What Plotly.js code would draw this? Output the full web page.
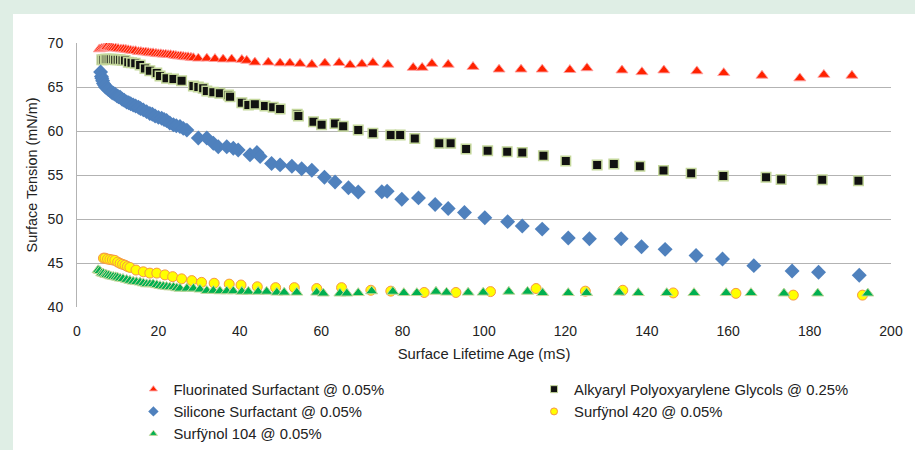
<!DOCTYPE html>
<html>
<head>
<meta charset="utf-8">
<script src="https://cdn.plot.ly/plotly-3.0.1.min.js"></script>
<style>
  html, body { margin: 0; padding: 0; width: 915px; height: 450px; overflow: hidden; }
  #bg { position: absolute; left: 0; top: 0; width: 915px; height: 450px; background: #dfeee5; }
  #card { position: absolute; left: 13px; top: 14px; width: 902px; height: 436px; background: #ffffff; }
  #chart { position: absolute; left: 0; top: 0; width: 915px; height: 450px; }
</style>
</head>
<body>
<div id="bg"></div>
<div id="card"></div>
<div id="chart"></div>
<script>
// ---- Data ----
const seriesNames = [
  "Fluorinated Surfactant @ 0.05%",
  "Alkyaryl Polyoxyarylene Glycols @ 0.25%",
  "Silicone Surfactant @ 0.05%",
  "Surfÿnol 420 @ 0.05%",
  "Surfÿnol 104 @ 0.05%"
];

const fluorX = [5.5,6.0,6.5,7.0,7.3,7.8,8.1,8.5,8.9,9.5,
  10.1,10.8,11.4,12.0,12.6,13.2,13.8,14.4,15.1,15.7,
  16.3,16.9,17.5,18.1,18.7,19.4,20.0,20.6,21.2,21.8,
  22.4,23.0,23.7,24.3,24.9,25.5,26.1,26.7,27.3,28.0,
  28.6,29.8,31.9,33.9,35.9,38.0,40.5,41.7,43.7,47.0,
  49.9,52.3,54.8,57.7,60.9,64.4,67.1,70.0,72.7,76.4,
  82.6,84.8,87.2,91.2,97.3,103.7,109.1,114.3,121.1,125.3,
  133.9,138.8,144.2,152.3,158.9,168.3,177.6,183.5,190.4];
const fluorY = [69.3,69.35,69.4,69.5,69.55,69.5,69.5,69.45,69.4,69.4,
  69.35,69.3,69.3,69.25,69.2,69.15,69.1,69.1,69.0,69.0,
  68.95,68.95,68.9,68.85,68.85,68.8,68.75,68.75,68.7,68.7,
  68.65,68.65,68.6,68.55,68.5,68.5,68.45,68.4,68.4,68.35,
  68.3,68.25,68.25,68.2,68.15,68.15,68.1,68.0,67.8,67.8,
  67.7,67.7,67.65,67.55,67.7,67.75,67.5,67.6,67.75,67.55,
  67.2,67.2,67.65,67.55,67.3,67.0,67.0,67.0,66.95,67.15,
  66.9,66.7,66.9,66.8,66.6,66.3,66.0,66.4,66.3];

const alkX = [6.1,6.5,7.0,7.3,7.8,8.3,8.9,9.4,10.0,10.6,
  11.2,11.8,12.6,13.4,14.3,15.5,16.7,17.9,19.6,20.4,
  22.0,23.7,25.7,28.6,29.8,31.0,31.9,33.5,35.1,37.2,
  37.6,40.5,42.1,43.7,46.2,48.2,49.9,54.1,54.4,58.1,
  60.1,63.4,65.4,69.1,72.7,77.1,79.4,83.0,89.0,91.8,
  95.6,100.9,105.7,109.4,114.6,120.1,127.8,131.9,138.3,144.1,
  150.9,158.8,169.3,173.0,183.1,192.0];
const alkY = [68.1,68.1,68.15,68.15,68.15,68.15,68.15,68.1,68.1,68.1,
  68.05,68.0,67.8,67.75,67.7,67.5,67.1,66.85,66.6,66.25,
  66.0,65.9,65.7,65.1,65.0,64.85,64.55,64.4,64.3,64.1,
  63.9,63.2,62.95,63.05,62.85,62.7,62.5,61.9,61.7,61.05,
  60.7,60.85,60.55,60.1,59.75,59.55,59.55,59.15,58.6,58.6,
  57.95,57.75,57.65,57.55,57.2,56.6,56.15,56.25,56.0,55.5,
  55.2,54.9,54.75,54.5,54.45,54.35];

const silX = [5.8,6.0,6.1,6.3,6.5,6.8,7.0,7.3,7.7,8.1,
  8.5,8.9,9.3,9.8,10.2,10.6,11.1,11.6,12.2,12.7,
  13.2,13.8,14.4,15.1,15.6,16.3,17.1,17.9,18.5,19.2,
  20.0,20.8,21.4,22.0,22.8,23.7,24.4,25.3,26.1,27.0,
  29.8,31.9,33.5,34.7,36.8,38.4,39.6,42.5,44.2,45.0,
  47.8,49.9,52.8,55.2,57.7,60.8,63.4,66.7,69.1,74.9,
  76.2,79.8,83.9,88.0,91.2,95.2,100.2,105.8,109.4,114.3,
  120.7,125.9,133.7,138.7,144.5,152.1,158.6,166.3,175.7,182.2,
  192.2];
const silY = [66.7,66.2,66.0,65.7,65.4,65.2,65.0,64.9,64.7,64.6,
  64.4,64.3,64.2,64.0,63.9,63.85,63.6,63.5,63.3,63.2,
  63.1,62.95,62.85,62.7,62.55,62.4,62.2,62.0,61.9,61.7,
  61.55,61.45,61.3,61.2,60.9,60.7,60.6,60.5,60.3,60.1,
  59.2,59.2,58.6,58.2,58.2,58.05,57.85,57.3,57.55,57.1,
  56.3,56.15,56.0,55.7,55.55,54.75,54.2,53.55,53.07,53.1,
  53.15,52.25,52.4,51.65,51.2,50.75,50.15,49.7,49.2,48.85,
  47.85,47.75,47.75,46.85,46.55,45.85,45.45,44.7,44.1,43.95,
  43.6];

const s420X = [6.5,6.9,7.5,8.1,8.7,9.3,10.0,10.6,11.2,11.8,
  12.4,13.0,14.5,16.3,17.9,19.6,21.6,23.5,25.7,28.2,
  30.6,33.7,37.4,40.3,44.3,48.8,53.4,58.9,65.0,72.2,
  77.1,85.3,93.1,101.6,112.8,124.9,134.1,146.5,161.9,176.0,
  193.0];
const s420Y = [45.55,45.55,45.45,45.4,45.35,45.3,45.1,44.95,44.85,44.75,
  44.6,44.5,44.2,44.0,43.85,43.85,43.65,43.45,43.2,43.0,
  42.8,42.7,42.6,42.5,42.3,42.2,42.2,42.1,42.2,41.9,
  41.8,41.65,41.65,41.75,42.1,41.8,41.9,41.6,41.55,41.35,
  41.35];

const s104X = [5.2,5.6,6.1,6.5,7.0,7.3,7.8,8.3,8.9,9.5,
  10.0,10.6,11.3,12.2,13.0,13.8,14.6,15.5,16.3,17.1,
  17.9,18.7,19.6,20.4,21.2,22.0,22.8,23.7,24.5,25.3,
  27.0,28.6,30.2,31.9,33.5,35.1,36.8,38.4,40.5,42.1,
  44.5,46.6,49.1,50.9,54.0,58.9,60.5,64.6,66.3,69.1,
  72.4,77.6,80.3,83.5,88.2,90.8,96.1,99.8,106.1,110.7,
  114.4,120.7,125.2,133.2,137.9,144.9,151.6,159.5,165.6,173.7,
  182.0,194.3];
const s104Y = [44.2,44.1,43.85,43.8,43.7,43.65,43.6,43.5,43.45,43.4,
  43.35,43.25,43.2,43.1,43.0,42.9,42.85,42.8,42.7,42.6,
  42.6,42.6,42.5,42.4,42.35,42.3,42.25,42.25,42.15,42.1,
  42.1,42.1,42.0,41.85,41.85,41.8,41.8,41.8,41.75,41.75,
  41.75,41.75,41.65,41.65,41.65,41.65,41.55,41.55,41.55,41.6,
  41.8,41.75,41.6,41.6,41.75,41.65,41.65,41.65,41.75,41.75,
  41.6,41.6,41.6,41.65,41.6,41.6,41.6,41.6,41.6,41.55,
  41.55,41.55];

const xTickVals = [0,20,40,60,80,100,120,140,160,180,200];
const yTickVals = [40,45,50,55,60,65,70];

// ---- Styles ----
const styles = [
  {symbol: "triangle-up", color: "#ff2200", line: "rgba(255,160,160,0.9)", lw: 1, size: 10.5, lsize: 7, legend: "legend"},
  {symbol: "square", color: "#111111", line: "#c4d79b", lw: 1.5, size: 9.5, lsize: 7, legend: "legend2"},
  {symbol: "diamond", color: "#4f81bd", line: "#4f81bd", lw: 0, size: 11.5, lsize: 8, legend: "legend"},
  {symbol: "circle", color: "#ffff00", line: "#f79646", lw: 1, size: 10, lsize: 7, legend: "legend2"},
  {symbol: "triangle-up", color: "#00b050", line: "#c4d79b", lw: 1, size: 10.5, lsize: 7, legend: "legend"}
];
const xs = [fluorX, alkX, silX, s420X, s104X];
const ys = [fluorY, alkY, silY, s420Y, s104Y];

const traces = [];
for (let i = 0; i < 5; i++) {
  traces.push({
    type: "scatter", mode: "markers", x: xs[i], y: ys[i], name: seriesNames[i],
    showlegend: false, hoverinfo: "skip",
    marker: {symbol: styles[i].symbol, color: styles[i].color, size: styles[i].size,
             line: {color: styles[i].line, width: styles[i].lw}}
  });
}
for (let i = 0; i < 5; i++) {
  traces.push({
    type: "scatter", mode: "markers", x: [null], y: [null], name: seriesNames[i],
    showlegend: true, legend: styles[i].legend, hoverinfo: "skip",
    marker: {symbol: styles[i].symbol, color: styles[i].color, size: styles[i].lsize,
             line: {color: styles[i].line, width: Math.min(styles[i].lw, 1)}}
  });
}

const font = {family: "Liberation Sans, Arial, sans-serif", size: 14, color: "#222222"};
const legendFont = {size: 14.8, color: "#222222", family: "Liberation Sans, Arial, sans-serif"};

const layout = {
  width: 915, height: 450,
  paper_bgcolor: "rgba(0,0,0,0)", plot_bgcolor: "rgba(0,0,0,0)",
  margin: {l: 76.5, r: 23.5, t: 43, b: 143, pad: 0},
  font: font,
  showlegend: true,
  xaxis: {
    range: [0, 200], tickvals: xTickVals, ticktext: xTickVals.map(String),
    showgrid: false, zeroline: false, showline: false, ticks: "",
    ticklabelstandoff: 14, tickfont: {size: 14, color: "#222222"},
    title: {text: "Surface Lifetime Age (mS)", font: {size: 14.8, color: "#222222"}, standoff: 10}
  },
  yaxis: {
    range: [40, 70], tickvals: yTickVals, ticktext: yTickVals.map(String),
    showgrid: true, gridcolor: "#b3b3b3", gridwidth: 1,
    zeroline: false, showline: true, linecolor: "#b3b3b3", linewidth: 1, ticks: "",
    ticklabelstandoff: 10, tickfont: {size: 14, color: "#222222"},
    title: {text: "Surface Tension (mN/m)", font: {size: 14.4, color: "#222222"}, standoff: 6}
  },
  legend: {
    orientation: "v", x: 0.0693, xanchor: "left", yref: "container", y: 0.171, yanchor: "top",
    font: legendFont, bgcolor: "rgba(0,0,0,0)", itemwidth: 30, tracegroupgap: 0
  },
  legend2: {
    orientation: "v", x: 0.5615, xanchor: "left", yref: "container", y: 0.171, yanchor: "top",
    font: legendFont, bgcolor: "rgba(0,0,0,0)", itemwidth: 30, tracegroupgap: 0
  }
};

Plotly.newPlot("chart", traces, layout, {displayModeBar: false, staticPlot: true});
</script>
</body>
</html>
